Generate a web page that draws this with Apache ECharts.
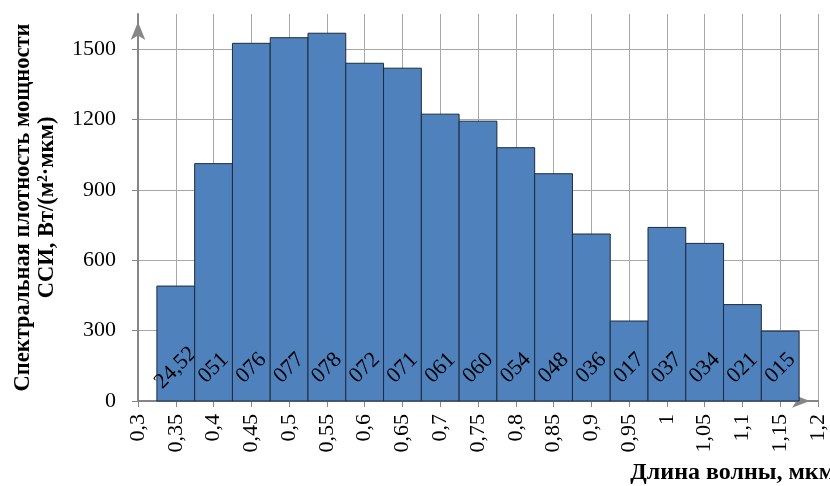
<!DOCTYPE html>
<html>
<head>
<meta charset="utf-8">
<script src="https://cdn.jsdelivr.net/npm/echarts@6/dist/echarts.min.js"></script>
<style>
  html, body { margin: 0; padding: 0; background: #fff; }
  #chart { width: 830px; height: 486px; }
</style>
</head>
<body>
<div id="chart"></div>
<script>
  // wavelength (bar centres, мкм) and spectral power density
  const wavelengths = [0.35, 0.4, 0.45, 0.5, 0.55, 0.6, 0.65, 0.7, 0.75, 0.8, 0.85, 0.9, 0.95, 1.0, 1.05, 1.1, 1.15]
  const density = [490, 1012, 1525, 1549, 1568, 1440, 1419, 1223, 1193, 1080, 969, 712, 341, 740, 672, 411, 298]
  const barLabels = ['24,52', '051', '076', '077', '078', '072', '071', '061', '060', '054', '048', '036', '017', '037', '034', '021', '015']
  const binWidth = 0.05

  const serif = '"Liberation Serif", "Times New Roman", serif'
  const gridColor = '#a8a8a8'
  const axisColor = '#868686'

  const chart = echarts.init(document.getElementById('chart'))

  const option = {
    animation: false,
    grid: { left: 138, right: 12, top: 14, bottom: 85 },
    xAxis: {
      type: 'value',
      min: 0.3,
      max: 1.2,
      interval: 0.05,
      axisLine: {
        lineStyle: { color: axisColor, width: 2 },
        symbol: ['none', 'arrow'],
        symbolSize: [10, 18],
        symbolOffset: [0, -8]
      },
      axisTick: { show: true, length: 6, lineStyle: { color: axisColor, width: 1 } },
      axisLabel: {
        rotate: 90,
        margin: 13,
        color: '#000',
        fontFamily: serif,
        fontSize: 22,
        showMaxLabel: true,
        formatter: (v) => String(+v.toFixed(2)).replace('.', ',')
      },
      splitLine: { show: true, lineStyle: { color: gridColor, width: 1 } }
    },
    yAxis: {
      type: 'value',
      min: 0,
      max: 1650,
      interval: 300,
      name: 'Спектральная плотность мощности\nССИ, Вт/(м²·мкм)',
      nameLocation: 'middle',
      nameGap: 79,
      nameTextStyle: { fontFamily: serif, fontWeight: 'bold', fontSize: 22.5, lineHeight: 24, color: '#000' },
      axisLine: {
        show: true,
        lineStyle: { color: axisColor, width: 2 },
        symbol: ['none', 'arrow'],
        symbolSize: [11, 18],
        symbolOffset: [0, -8]
      },
      axisTick: { show: true, length: 6, lineStyle: { color: axisColor, width: 1 } },
      axisLabel: {
        margin: 22,
        color: '#000',
        fontFamily: serif,
        fontSize: 22,
        showMaxLabel: false,
        formatter: (v) => String(v)
      },
      splitLine: { show: true, showMaxLine: false, lineStyle: { color: gridColor, width: 1 } }
    },
    graphic: [
      {
        type: 'text',
        right: -5,
        top: 461,
        style: { text: 'Длина волны, мкм', font: 'bold 24px ' + serif, fill: '#000' }
      }
    ],
    series: [
      {
        type: 'custom',
        data: wavelengths.map((w, i) => [w, density[i], i]),
        renderItem: function (params, api) {
          const x = api.value(0)
          const y = api.value(1)
          const i = api.value(2)
          const topLeft = api.coord([x - binWidth / 2, y])
          const bottomRight = api.coord([x + binWidth / 2, 0])
          const base = api.coord([x, 0])
          return {
            type: 'group',
            children: [
              {
                type: 'rect',
                shape: {
                  x: topLeft[0],
                  y: topLeft[1],
                  width: bottomRight[0] - topLeft[0],
                  height: bottomRight[1] - topLeft[1]
                },
                style: { fill: '#4f81bd', stroke: '#1e2b3c', lineWidth: 1 }
              },
              {
                type: 'text',
                x: base[0],
                y: base[1] - 33,
                rotation: Math.PI / 4,
                style: {
                  text: barLabels[i],
                  font: '22px ' + serif,
                  fill: '#000',
                  align: 'center',
                  verticalAlign: 'middle'
                }
              }
            ]
          }
        }
      }
    ]
  }

  chart.setOption(option)
</script>
</body>
</html>
